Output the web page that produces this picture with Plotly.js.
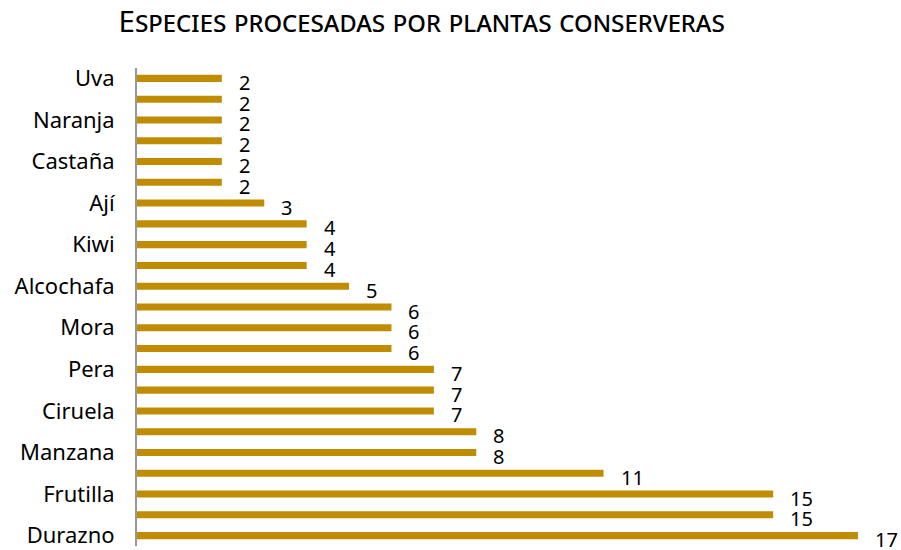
<!DOCTYPE html>
<html>
<head>
<meta charset="utf-8">
<script src="https://cdn.plot.ly/plotly-3.0.1.min.js"></script>
<style>html,body{margin:0;padding:0;background:#fff;}#chart{width:901px;height:550px;}</style>
</head>
<body>
<div id="chart"></div>
<script>
// Categories top to bottom; only every other label is printed in the reference
const species = ["Uva","Limón","Naranja","Nuez","Castaña","Tomate","Ají","Arándano","Kiwi","Pimiento","Alcochafa","Damasco","Mora","Espárrago","Pera","Frambuesa","Ciruela","Cereza","Manzana","Membrillo","Frutilla","Guinda","Durazno"];
const counts  = [2,2,2,2,2,2,3,4,4,4,5,6,6,6,7,7,7,8,8,11,15,15,17];
const shownLabels = ["Uva","Naranja","Castaña","Ají","Kiwi","Alcochafa","Mora","Pera","Ciruela","Manzana","Frutilla","Durazno"];
const chartTitle = "Especies procesadas por plantas conserveras";

const trace = {
  type: 'bar',
  orientation: 'h',
  x: counts,
  y: species,
  width: 0.34,
  marker: {color: '#BF8C04'},
  hoverinfo: 'x+y'
};

const annotations = species.map((s, i) => ({
  x: counts[i], y: s, xref: 'x', yref: 'y',
  text: String(counts[i]), showarrow: false,
  xanchor: 'left', yanchor: 'middle', xshift: 15, yshift: -4,
  font: {family: 'Noto Sans, sans-serif', size: 20, color: '#000'}
}));

const layout = {
  width: 901, height: 550,
  margin: {l: 137, r: 43, t: 68, b: 4},
  paper_bgcolor: '#fff', plot_bgcolor: '#fff',
  showlegend: false,
  title: {
    text: chartTitle,
    x: 0.468, xanchor: 'center', y: 0.96, yanchor: 'middle',
    font: {family: 'Noto Sans, sans-serif', size: 29.5, color: '#000', variant: 'small-caps'}
  },
  xaxis: {
    range: [0, 17], visible: false, showgrid: false, zeroline: false, fixedrange: true
  },
  yaxis: {
    type: 'category',
    categoryorder: 'array', categoryarray: species,
    range: [22.5, -0.5], autorange: false,
    tickmode: 'array', tickvals: shownLabels, ticktext: shownLabels,
    showline: true, linecolor: '#999', linewidth: 2,
    ticks: '', showgrid: false, zeroline: false,
    ticklabelstandoff: 16,
    tickfont: {family: 'Noto Sans, sans-serif', size: 22, color: '#000'}
  },
  annotations: annotations,
  bargap: 0.66
};

Plotly.newPlot('chart', [trace], layout, {displayModeBar: false, staticPlot: true});
</script>
</body>
</html>
